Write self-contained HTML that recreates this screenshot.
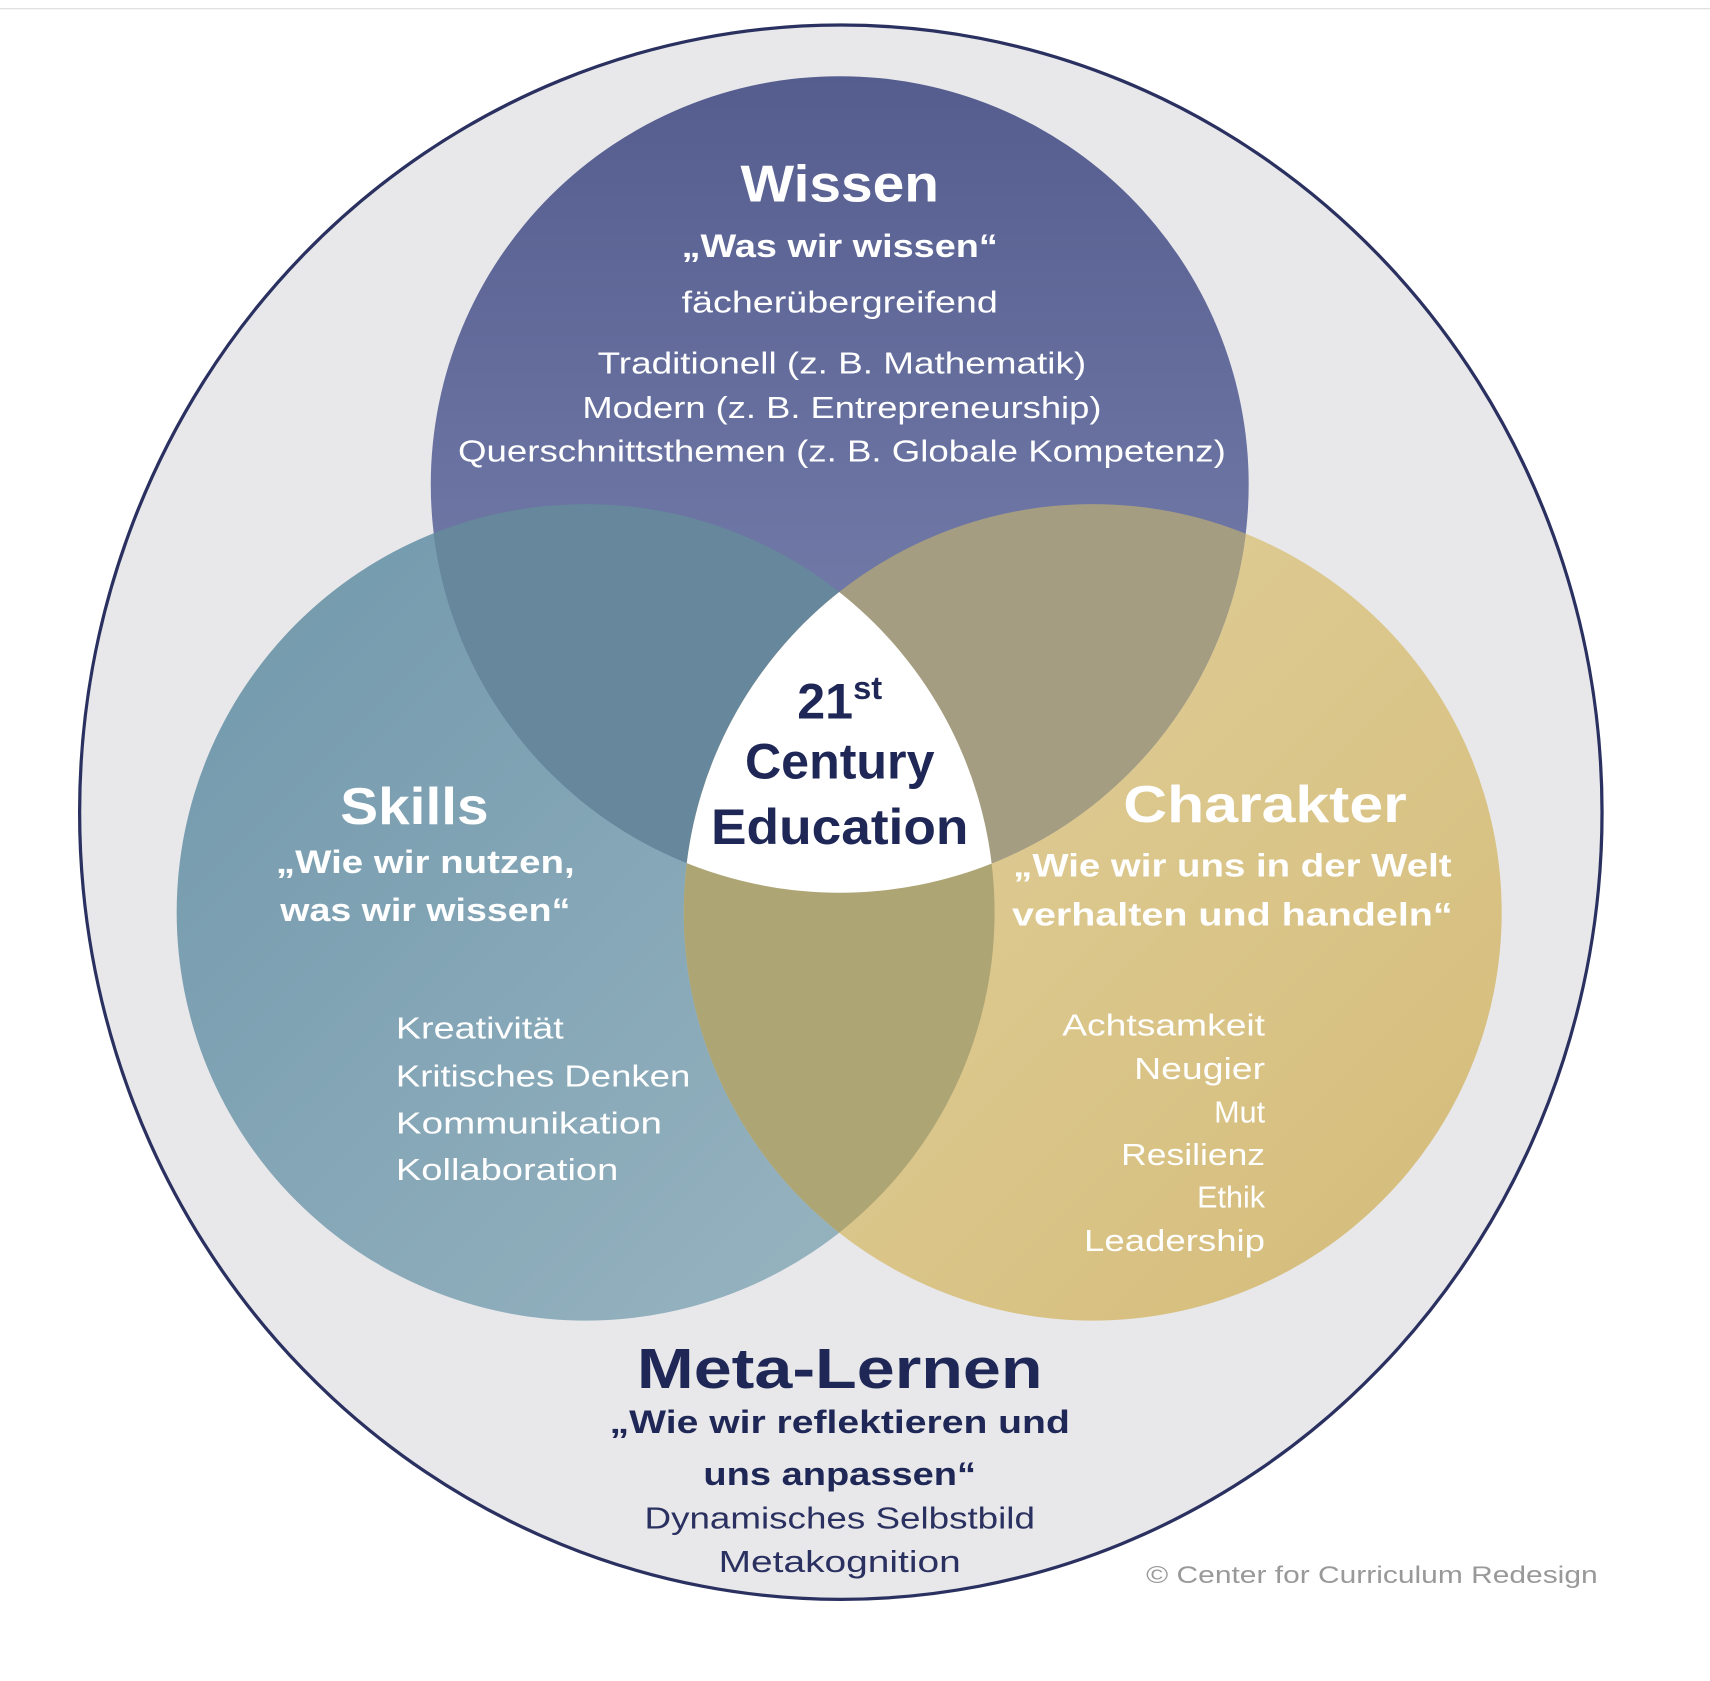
<!DOCTYPE html>
<html><head><meta charset="utf-8"><style>
html,body{margin:0;padding:0;background:#fff;width:1710px;height:1681px;overflow:hidden}
svg{display:block}
text{font-family:"Liberation Sans",sans-serif}
</style></head><body>
<svg width="1710" height="1681" viewBox="0 0 1568 1544" preserveAspectRatio="none">
<defs>
<linearGradient id="gw" x1="0" y1="0" x2="0" y2="1"><stop offset="0" stop-color="#555d8f"/><stop offset="1" stop-color="#7f88b3"/></linearGradient>
<linearGradient id="gs" x1="0" y1="0" x2="1" y2="1"><stop offset="0" stop-color="#6f97ab"/><stop offset="1" stop-color="#9bb6c2"/></linearGradient>
<linearGradient id="gc" x1="0" y1="0" x2="1" y2="1"><stop offset="0" stop-color="#e2d29f"/><stop offset="1" stop-color="#d4bb78"/></linearGradient>
<clipPath id="cw"><circle cx="770" cy="445" r="375"/></clipPath>
<clipPath id="cs"><circle cx="537" cy="838" r="375"/></clipPath>
<clipPath id="cc"><circle cx="1002" cy="838" r="375"/></clipPath>
</defs>
<rect width="1568" height="1544" fill="#fff"/>
<line x1="0" y1="8" x2="1568" y2="8" stroke="#ddd" stroke-width="1"/>
<ellipse cx="771" cy="746" rx="698" ry="723" fill="#e8e8ea" stroke="#2a3160" stroke-width="3"/>
<circle cx="537" cy="838" r="375" fill="url(#gs)"/>
<circle cx="1002" cy="838" r="375" fill="url(#gc)"/>
<circle cx="770" cy="445" r="375" fill="url(#gw)"/>
<g clip-path="url(#cw)"><circle cx="537" cy="838" r="375" fill="#66879c"/><circle cx="1002" cy="838" r="375" fill="#a59d82"/></g>
<g clip-path="url(#cs)"><circle cx="1002" cy="838" r="375" fill="#aea575"/></g>
<g clip-path="url(#cs)"><g clip-path="url(#cc)"><circle cx="770" cy="445" r="375" fill="#fff"/></g></g>
<g fill="#fff" text-anchor="middle" lengthAdjust="spacingAndGlyphs">
<text x="770" y="185" font-size="48" font-weight="bold" textLength="182" lengthAdjust="spacingAndGlyphs">Wissen</text>
<text x="770" y="236" font-size="30" font-weight="bold" textLength="290" lengthAdjust="spacingAndGlyphs">„Was wir wissen“</text>
<text x="770" y="287" font-size="28" textLength="290" lengthAdjust="spacingAndGlyphs">fächerübergreifend</text>
<text x="772" y="343" font-size="28" textLength="448" lengthAdjust="spacingAndGlyphs">Traditionell (z. B. Mathematik)</text>
<text x="772" y="384" font-size="28" textLength="476" lengthAdjust="spacingAndGlyphs">Modern (z. B. Entrepreneurship)</text>
<text x="772" y="424" font-size="28" textLength="704" lengthAdjust="spacingAndGlyphs">Querschnittsthemen (z. B. Globale Kompetenz)</text>
<text x="380" y="757" font-size="48" font-weight="bold" textLength="136" lengthAdjust="spacingAndGlyphs">Skills</text>
<text x="390" y="802" font-size="30" font-weight="bold" textLength="274" lengthAdjust="spacingAndGlyphs">„Wie wir nutzen,</text>
<text x="390" y="846" font-size="30" font-weight="bold" textLength="266" lengthAdjust="spacingAndGlyphs">was wir wissen“</text>
<text x="1160" y="755" font-size="48" font-weight="bold" textLength="260" lengthAdjust="spacingAndGlyphs">Charakter</text>
<text x="1130" y="805" font-size="30" font-weight="bold" textLength="402" lengthAdjust="spacingAndGlyphs">„Wie wir uns in der Welt</text>
<text x="1130" y="850" font-size="30" font-weight="bold" textLength="404" lengthAdjust="spacingAndGlyphs">verhalten und handeln“</text>
</g>
<g fill="#fff" font-size="28">
<text x="363" y="954" textLength="154" lengthAdjust="spacingAndGlyphs">Kreativität</text>
<text x="363" y="998" textLength="270" lengthAdjust="spacingAndGlyphs">Kritisches Denken</text>
<text x="363" y="1041" textLength="244" lengthAdjust="spacingAndGlyphs">Kommunikation</text>
<text x="363" y="1084" textLength="204" lengthAdjust="spacingAndGlyphs">Kollaboration</text>
</g>
<g fill="#fff" font-size="28" text-anchor="end">
<text x="1160" y="951" textLength="186" lengthAdjust="spacingAndGlyphs">Achtsamkeit</text>
<text x="1160" y="991" textLength="120" lengthAdjust="spacingAndGlyphs">Neugier</text>
<text x="1160" y="1031">Mut</text>
<text x="1160" y="1070" textLength="132" lengthAdjust="spacingAndGlyphs">Resilienz</text>
<text x="1160" y="1109">Ethik</text>
<text x="1160" y="1149" textLength="166" lengthAdjust="spacingAndGlyphs">Leadership</text>
</g>
<g fill="#1e2756" text-anchor="middle" font-weight="bold">
<text x="770" y="660" font-size="46">21<tspan font-size="30" dy="-18">st</tspan></text>
<text x="770" y="715" font-size="46">Century</text>
<text x="770" y="775" font-size="46" textLength="236" lengthAdjust="spacingAndGlyphs">Education</text>
<text x="770" y="1275" font-size="52" textLength="372" lengthAdjust="spacingAndGlyphs">Meta-Lernen</text>
<text x="770" y="1316" font-size="30" textLength="422" lengthAdjust="spacingAndGlyphs">„Wie wir reflektieren und</text>
<text x="770" y="1364" font-size="30" textLength="250" lengthAdjust="spacingAndGlyphs">uns anpassen“</text>
</g>
<g fill="#2a3160" text-anchor="middle" font-size="28">
<text x="770" y="1404" textLength="358" lengthAdjust="spacingAndGlyphs">Dynamisches Selbstbild</text>
<text x="770" y="1444" textLength="222" lengthAdjust="spacingAndGlyphs">Metakognition</text>
</g>
<text x="1258" y="1454" font-size="22" fill="#999" text-anchor="middle" textLength="414" lengthAdjust="spacingAndGlyphs">© Center for Curriculum Redesign</text>
</svg>
</body></html>
